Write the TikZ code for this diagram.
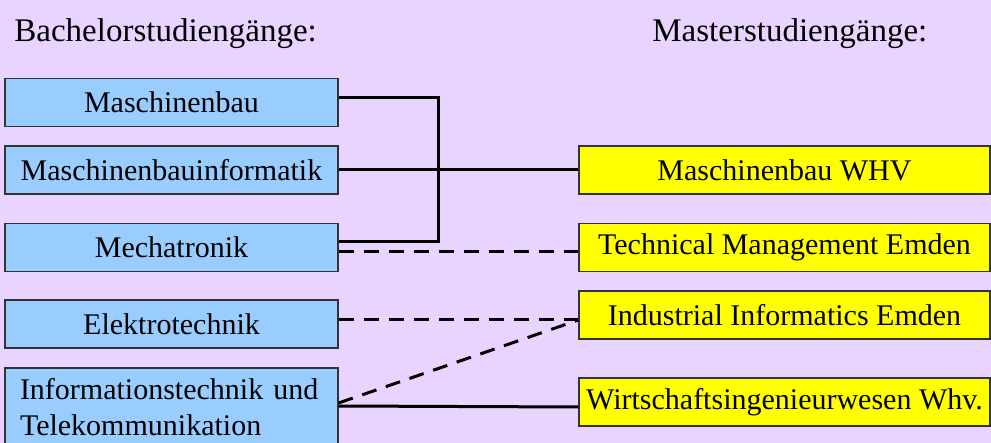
\documentclass[tikz,border=0pt]{standalone}
\usepackage{fontspec}
\setmainfont{Liberation Serif}

\definecolor{lila}{RGB}{232,212,255}
\definecolor{hellblau}{RGB}{153,204,255}
\definecolor{gelb}{RGB}{255,255,0}

\tikzset{
  kasten/.style={draw=black!80, line width=0.6pt, minimum height=24pt, inner sep=0pt,
    font=\fontsize{15}{18}\selectfont},
  bachelor/.style={kasten, fill=hellblau, minimum width=166.5pt},
  master/.style={kasten, fill=gelb, minimum width=205.5pt},
  kopf/.style={anchor=base west, inner sep=0pt, font=\fontsize{16.5}{20}\selectfont},
  linie/.style={line width=1.5pt},
  strich/.style={line width=1.5pt, dash pattern=on 7.5pt off 5pt},
}

\begin{document}
\begin{tikzpicture}[x=0.5pt,y=-0.5pt]
\fill[lila] (0,0) rectangle (991,443);
\useasboundingbox (0,0) rectangle (991,443);

\node[kopf] (k1) at (14,42) {Bachelorstudiengänge:};
\node[kopf] (k2) at (652,42) {Masterstudiengänge:};

% Bachelor
\node[bachelor] (a) at (171.5,102.5) {Maschinenbau};
\node[bachelor] (b) at (171.5,170) {Maschinenbauinformatik};
\node[bachelor] (c) at (171.5,247.5) {Mechatronik};
\node[bachelor] (d) at (171.5,324) {Elektrotechnik};
\node[bachelor, minimum height=39pt, text width=151.5pt, align=left, inner xsep=7.5pt] (e) at (171.5,407)
  {Informationstechnik und\\Telekommunikation};

% Master
\node[master] (g) at (784.5,170) {Maschinenbau WHV};
\node[master] (h) at (784.5,247.5) {Technical Management Emden};
\node[master] (i) at (784.5,315) {Industrial Informatics Emden};
\node[master] (j) at (784.5,402) {Wirtschaftsingenieurwesen Whv.};

\draw[linie] ([yshift=2.25pt]a.east) -- ++(50pt,0) |- ([yshift=2.75pt]c.east);

\path
(b) edge[linie] (g)
([yshift=-2.25pt]c.east) edge[strich] ([yshift=-2.25pt]h.west)
([yshift=2pt]d.east) edge[strich] ([yshift=-2.5pt]i.west)
([yshift=2pt]e.east) edge[strich] ([yshift=-2.5pt]i.west)
([yshift=0.5pt]e.east) edge[linie] ([yshift=-2.5pt]j.west);
\end{tikzpicture}
\end{document}
